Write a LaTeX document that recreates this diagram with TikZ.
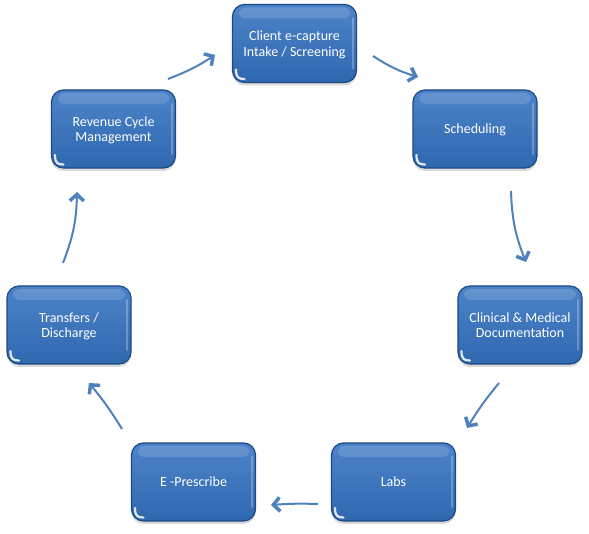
\documentclass[tikz,border=0pt]{standalone}
\usepackage{fontspec}
\setmainfont{Carlito}
\usetikzlibrary{arrows.meta,shadows,fadings}
\definecolor{boxtop}{RGB}{76,131,200}
\definecolor{boxbot}{RGB}{48,104,176}
\definecolor{boxline}{RGB}{28,72,132}
\definecolor{arrowc}{RGB}{79,129,189}
\tikzset{
  stage/.style={rectangle, rounded corners=12pt, minimum width=124pt, minimum height=78pt,
    top color=boxtop, bottom color=boxbot, draw=boxline, line width=1.2pt,
    text=white, align=center, font=\fontsize{14}{15.5}\selectfont,
    text depth=0pt, inner ysep=0pt,
    drop shadow={opacity=0.3, shadow xshift=0pt, shadow yshift=-3pt},
    path picture={
      \fill[white,opacity=0.14,rounded corners=7pt]
        ([xshift=6pt,yshift=-3pt]path picture bounding box.north west) rectangle
        ([xshift=-6pt,yshift=-14pt]path picture bounding box.north east);
      \draw[white,opacity=0.85,line width=2.2pt,line cap=round]
        ([xshift=3.5pt,yshift=13pt]path picture bounding box.south west)
        .. controls ([xshift=3.5pt,yshift=5pt]path picture bounding box.south west)
        and ([xshift=6pt,yshift=3.5pt]path picture bounding box.south west)
        .. ([xshift=12pt,yshift=3.5pt]path picture bounding box.south west);
      \draw[white,opacity=0.25,line width=2pt,line cap=round]
        ([xshift=-4pt,yshift=-14pt]path picture bounding box.north east) --
        ([xshift=-4pt,yshift=14pt]path picture bounding box.south east);
    }},
  flow/.style={draw=arrowc, line width=2pt,
    -{Straight Barb[length=6.5pt,width=14pt,line width=3.5pt]}}
}
\begin{document}
\begin{tikzpicture}[x=1pt,y=-1pt]
\useasboundingbox (0,0) rectangle (589,534);
\node[stage] (client) at (294.5,43.5) {Client e-capture\\Intake / Screening};
\node[stage] (sched) at (475,129) {Scheduling};
\node[stage] (clin) at (520,325) {Clinical \& Medical\\Documentation};
\node[stage] (labs) at (393.5,482) {Labs};
\node[stage] (epres) at (193.5,482) {E -Prescribe};
\node[stage] (trans) at (69,325) {Transfers /\\Discharge};
\node[stage] (rev) at (113.5,129) {Revenue Cycle\\Management};

\coordinate (a1s) at (373,56);  \coordinate (a1e) at (418,77);
\coordinate (a2s) at (511,191); \coordinate (a2e) at (526,262);
\coordinate (a3s) at (499,383); \coordinate (a3e) at (467,428);
\coordinate (a4s) at (318,504); \coordinate (a4e) at (271,505);
\coordinate (a5s) at (122,429); \coordinate (a5e) at (89,383);
\coordinate (a6s) at (63,263);  \coordinate (a6e) at (77,192);
\coordinate (a7s) at (168,79);  \coordinate (a7e) at (215,55);

\draw[flow] (a1s) to[bend right=8] (a1e);
\draw[flow] (a2s) to[bend right=10] (a2e);
\draw[flow] (a3s) to[bend right=4] (a3e);
\draw[flow] (a4s) to[bend right=3] (a4e);
\draw[flow] (a5s) to[bend right=4] (a5e);
\draw[flow] (a6s) to[bend right=10] (a6e);
\draw[flow] (a7s) to[bend right=6] (a7e);
\end{tikzpicture}
\end{document}
